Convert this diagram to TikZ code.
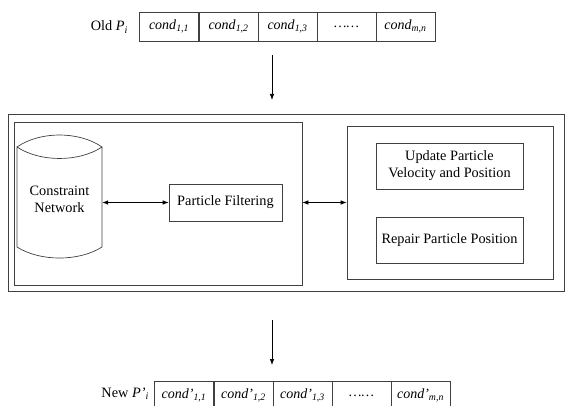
\documentclass[tikz,border=0pt]{standalone}
\usepackage{fontspec}
\setmainfont{Liberation Serif}
\usetikzlibrary{arrows.meta}
\newcommand{\cnd}[1]{\textit{cond}\textsubscript{\textit{#1}}}
\newcommand{\cndp}[1]{\textit{cond'}\textsubscript{\textit{#1}}}
\tikzset{
  ln/.style={draw=black!75, line width=0.7pt},
  cell/.style={ln, minimum width=59pt, minimum height=29pt, inner sep=0pt, font=\fontsize{14}{17}\selectfont},
  boxn/.style={ln, inner sep=0pt, align=center, font=\fontsize{14.3}{17}\selectfont},
  frame/.style={ln, inner sep=0pt},
  lbl/.style={inner sep=0pt, font=\fontsize{14.3}{17}\selectfont},
  arr/.style={draw=black, line width=0.7pt, -{Latex[length=6pt,width=4.5pt]}},
  darr/.style={draw=black, line width=0.7pt, {Latex[length=6pt,width=4.5pt]}-{Latex[length=6pt,width=4.5pt]}}
}
\begin{document}
\begin{tikzpicture}[x=1pt,y=-1pt]
\useasboundingbox (0,0) rectangle (565,406);
\clip (0,0) rectangle (565,406);
% top row
\node[lbl, anchor=east] (oldp) at (128,27) {Old \textit{P}\textsubscript{\textit{i}}};
\node[cell] (t1) at (169,26.5) {\cnd{1,1}};
\node[cell] (t2) at (228.5,26.5) {\cnd{1,2}};
\node[cell] (t3) at (287.5,26.5) {\cnd{1,3}};
\node[cell] (t4) at (346.5,26.5) {\textit{\dots\dots}};
\node[cell] (t5) at (405.5,26.5) {\cnd{m,n}};
% outer frame
\node[frame, minimum width=556pt, minimum height=177pt] (outer) at (286,202.5) {};
\node[frame, minimum width=288pt, minimum height=163pt] (lf) at (158,203.5) {};
\node[frame, minimum width=206pt, minimum height=153pt] (rf) at (450,202.5) {};
% cylinder
\node[lbl, align=center, minimum width=85pt, minimum height=100pt] (cyl) at (59.5,199) {Constraint\\Network};
\draw[ln] (17,147) .. controls (40,131) and (79,131) .. (102,147)
          .. controls (79,162.3) and (40,162.3) .. (17,147)
          -- (17,247) .. controls (40,261.7) and (79,261.7) .. (102,247) -- (102,147);
\node[boxn, minimum width=113pt, minimum height=37pt] (pf) at (225.5,202.5) {Particle Filtering};
\node[boxn, minimum width=147pt, minimum height=46pt] (upd) at (449.5,166) {Update Particle\\Velocity and Position};
\node[boxn, minimum width=147pt, minimum height=46pt] (rep) at (449.5,240) {Repair Particle Position};
% bottom row
\node[lbl, anchor=east] (newp) at (149,394) {New \textit{P'}\textsubscript{\textit{i}}};
\node[cell] (b1) at (184,395.5) {\cndp{1,1}};
\node[cell] (b2) at (243.5,395.5) {\cndp{1,2}};
\node[cell] (b3) at (302.5,395.5) {\cndp{1,3}};
\node[cell] (b4) at (361.5,395.5) {\textit{\dots\dots}};
\node[cell] (b5) at (420.5,395.5) {\cndp{m,n}};
% arrows
\coordinate (a1s) at (272,55);
\coordinate (a1e) at (272,100);
\coordinate (a2s) at (272,320);
\coordinate (a2e) at (272,365);
\draw[arr] (a1s) -- (a1e);
\draw[arr] (a2s) -- (a2e);
\draw[darr] (pf.west -| cyl.east) -- (pf.west);
\draw[darr] (rf.west -| lf.east) -- (rf.west);
\end{tikzpicture}
\end{document}
